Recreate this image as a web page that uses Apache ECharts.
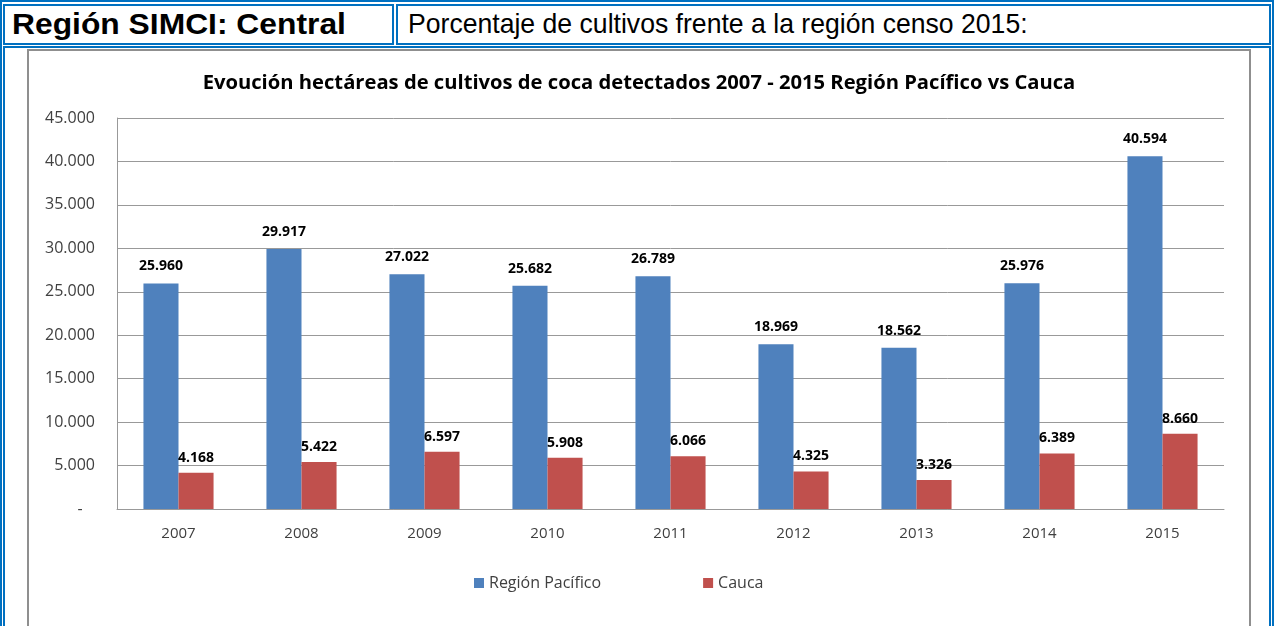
<!DOCTYPE html>
<html>
<head>
<meta charset="utf-8">
<script src="https://cdn.jsdelivr.net/npm/echarts@6/dist/echarts.min.js"></script>
<style>
  body { margin: 0; background: #fff; width: 1274px; height: 626px; overflow: hidden; position: relative; }
  .blue { position: absolute; border: 2px solid #0070C0; box-sizing: border-box; }
  .hd { font-family: "Liberation Sans", Arial, sans-serif; position: absolute; white-space: nowrap; transform-origin: left top; }
  #frame { position: absolute; left: 27px; top: 49px; width: 1224px; height: 600px; border: 2px solid #8f8f8f; box-sizing: border-box; }
  #main { position: absolute; left: 29px; top: 51px; width: 1220px; height: 575px; }
</style>
</head>
<body>
<div class="blue" style="left:0;top:0;width:1274px;height:700px;"></div>
<div class="blue" style="left:3px;top:4px;width:391px;height:41px;"></div>
<div class="blue" style="left:396px;top:4px;width:875px;height:41px;"></div>
<div class="blue" style="left:3px;top:46px;width:1268px;height:700px;"></div>
<div class="hd" style="left:12px;top:7px;font-size:30px;font-weight:bold;color:#000;transform:scaleX(1.06);">Región SIMCI: Central</div>
<div class="hd" style="left:408px;top:8px;font-size:28px;color:#000;transform:scaleX(0.95);">Porcentaje de cultivos frente a la región censo 2015:</div>
<div id="frame"></div>
<div id="main"></div>
<script>
// datos
const years = ['2007', '2008', '2009', '2010', '2011', '2012', '2013', '2014', '2015'];
const pacifico = [25960, 29917, 27022, 25682, 26789, 18969, 18562, 25976, 40594];
const cauca = [4168, 5422, 6597, 5908, 6066, 4325, 3326, 6389, 8660];

// formato con punto de miles, 0 como guion
function fmt(v) {
    if (v === 0) return '-   ';
    return String(v).replace(/\B(?=(\d{3})+(?!\d))/g, '.');
}

const font = '"Open Sans", sans-serif';
const myChart = echarts.init(document.getElementById('main'));
myChart.setOption({
    animation: false,
    title: {
        text: 'Evoución hectáreas de cultivos de coca detectados 2007 - 2015 Región Pacífico vs Cauca',
        left: 'center',
        top: 17,
        textStyle: { fontFamily: font, fontSize: 20.2, fontWeight: 'bold', color: '#000' }
    },
    legend: {
        left: 440,
        top: 519,
        itemWidth: 10,
        itemHeight: 10,
        itemGap: 102,
        icon: 'rect',
        textStyle: { fontFamily: font, fontSize: 16, color: '#404040' },
        data: ['Región Pacífico', 'Cauca']
    },
    grid: { left: 88, right: 25, top: 67, bottom: 117 },
    xAxis: {
        type: 'category',
        data: years,
        axisTick: { show: false },
        axisLine: { lineStyle: { color: '#999' } },
        axisLabel: { fontFamily: font, fontSize: 15, color: '#404040', margin: 17 }
    },
    yAxis: {
        type: 'value',
        min: 0,
        max: 45000,
        interval: 5000,
        axisLine: { show: true, lineStyle: { color: '#999' } },
        splitLine: { lineStyle: { color: '#999' } },
        axisLabel: { fontFamily: font, fontSize: 16, color: '#404040', margin: 22, formatter: fmt }
    },
    series: [
        {
            name: 'Región Pacífico',
            type: 'bar',
            data: pacifico,
            barGap: '0%',
            barCategoryGap: '43%',
            itemStyle: { color: '#4F81BD' },
            label: { show: true, position: 'top', distance: 10, fontFamily: font, fontSize: 14, fontWeight: 'bold', color: '#000', formatter: p => fmt(p.value) }
        },
        {
            name: 'Cauca',
            type: 'bar',
            data: cauca,
            itemStyle: { color: '#C0504D' },
            label: { show: true, position: 'top', distance: 8, fontFamily: font, fontSize: 14, fontWeight: 'bold', color: '#000', formatter: p => fmt(p.value) }
        }
    ]
});
</script>
</body>
</html>
